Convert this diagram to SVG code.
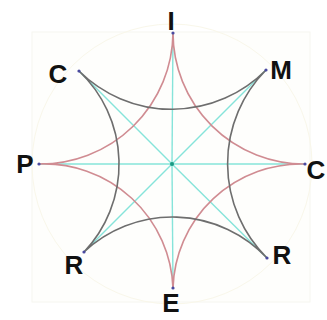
<svg xmlns="http://www.w3.org/2000/svg" width="327" height="320" viewBox="0 0 327 320">
  <style>
    .lbl { font-family: "Liberation Sans", Arial, sans-serif; font-weight: bold; font-size: 26px; fill: #111; text-anchor: middle; }
    .spoke { stroke: #86e4da; stroke-width: 1.4; fill: none; }
    .pink { stroke: #d08c92; stroke-width: 1.6; fill: none; }
    .dark { stroke: #6e6e6e; stroke-width: 1.6; fill: none; }
    .pt { fill: #4a4aa0; }
  </style>
  <rect x="0" y="0" width="327" height="320" fill="#ffffff"/>
  <rect x="32" y="32" width="278" height="270" fill="#fefefc" stroke="#f6f6f0" stroke-width="1"/>
  <circle cx="172" cy="164" r="140" fill="none" stroke="#f9f7ea" stroke-width="1"/>

  <g id="connectors">
    <g id="spokes">
      <line class="spoke" x1="172" y1="164" x2="173" y2="33"/>
      <line class="spoke" x1="172" y1="164" x2="266" y2="70"/>
      <line class="spoke" x1="39" y1="164" x2="305" y2="164"/>
      <line class="spoke" x1="172" y1="164" x2="267" y2="258"/>
      <line class="spoke" x1="172" y1="164" x2="173" y2="288"/>
      <line class="spoke" x1="172" y1="164" x2="84" y2="252"/>
      <line class="spoke" x1="172" y1="164" x2="79" y2="71"/>
    </g>
    <path id="pink-star" class="pink" d="M173 33 A131.5 131.5 0 0 0 305 164 A128 128 0 0 0 173 288 A129 129 0 0 0 39 164 A132.5 132.5 0 0 0 173 33"/>
    <path id="dark-star" class="dark" d="M79 71 A132.2 132.2 0 0 0 266 70 A133 133 0 0 0 267 258 A129.5 129.5 0 0 0 84 252 A128 128 0 0 0 79 71"/>
  </g>

  <g id="center"><circle cx="172" cy="164" r="2" fill="#1a9a84"/></g>

  <g id="node-I"><circle class="pt" cx="173" cy="33" r="1.6"/><text class="lbl" x="171" y="30">I</text></g>
  <g id="node-M"><circle class="pt" cx="266" cy="70" r="1.6"/><text class="lbl" x="281" y="79">M</text></g>
  <g id="node-C-right"><circle class="pt" cx="305" cy="164" r="1.6"/><text class="lbl" x="316" y="179">C</text></g>
  <g id="node-R-right"><circle class="pt" cx="267" cy="258" r="1.6"/><text class="lbl" x="282" y="264">R</text></g>
  <g id="node-E"><circle class="pt" cx="173" cy="288" r="1.6"/><text class="lbl" x="171" y="312">E</text></g>
  <g id="node-R-left"><circle class="pt" cx="84" cy="252" r="1.6"/><text class="lbl" x="74" y="274">R</text></g>
  <g id="node-P"><circle class="pt" cx="39" cy="164" r="1.6"/><text class="lbl" x="25" y="173">P</text></g>
  <g id="node-C-left"><circle class="pt" cx="79" cy="71" r="1.6"/><text class="lbl" x="58" y="83">C</text></g>
</svg>
